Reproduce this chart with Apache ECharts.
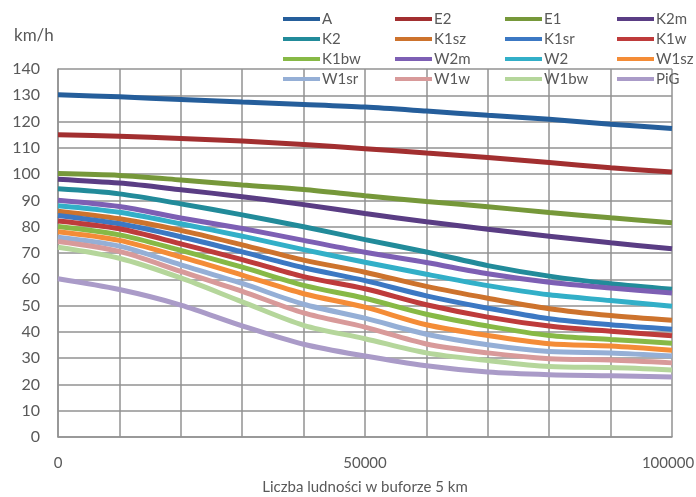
<!DOCTYPE html>
<html>
<head>
<meta charset="utf-8">
<script src="https://cdn.jsdelivr.net/npm/echarts@6/dist/echarts.min.js"></script>
<style>
html,body{margin:0;padding:0;background:#fff;}
#c{width:696px;height:497px;}
</style>
</head>
<body>
<div id="c"></div>
<script>
const xValues = [0,10000,20000,30000,40000,50000,60000,70000,80000,90000,100000];
const xTickLabels = ['0','50000','100000'];
const seriesNames = ['A','E2','E1','K2m','K2','K1sz','K1sr','K1w','K1bw','W2m','W2','W1sz','W1sr','W1w','W1bw','PiG'];

const A    = [130.2,129.4,128.4,127.4,126.5,125.5,124,122.4,120.9,119,117.4];
const E2   = [115,114.4,113.6,112.6,111.3,109.7,108,106.3,104.4,102.4,100.8];
const E1   = [100.2,99.5,97.8,95.9,94.2,91.8,89.6,87.6,85.4,83.4,81.5];
const K2m  = [98.1,96.6,94.1,91.4,88.4,85,81.9,79,76.4,73.9,71.6];
const K2   = [94.4,92.5,88.7,84.5,80,75.1,70.4,65.2,61.2,58.3,56.2];
const K1sz = [85.9,83,78.6,73.1,67.3,62.7,57.3,52.8,48.8,46.2,44.4];
const K1sr = [84.3,81.1,76.2,70.4,64.4,59.5,53.7,49,45,42.7,41];
const K1w  = [82.2,79.2,73.5,67.5,61,56.4,50.3,45.6,42.2,40.2,38.5];
const K1bw = [80.1,76.9,71,64.6,57.7,52.8,46.7,42.2,38.6,37.1,35.7];
const W2m  = [90.1,87.7,83.3,79.3,74.8,70.3,66.4,62.1,58.9,56.7,54.8];
const W2   = [88,85.5,81.1,76.4,71.3,66.5,61.9,57.6,54.1,51.9,49.7];
const W1sz = [78.1,74.8,68.5,61.6,54.5,49.4,42.7,38.6,35.5,34.6,33];
const W1sr = [76,72.6,65.5,58.4,50.5,45.2,39.1,35.1,32.5,32,30.8];
const W1w  = [74.4,70.6,63,55.4,47.2,41.8,35.4,32,29.8,29.3,28.2];
const W1bw = [72.2,68,60.5,51.4,42.5,37.4,32,29.1,26.8,26.4,25.5];
const PiG  = [60.2,56.1,50.2,42.3,35.3,30.8,27.1,24.7,23.7,23.3,22.8];

const values = {A,E2,E1,K2m,K2,K1sz,K1sr,K1w,K1bw,W2m,W2,W1sz,W1sr,W1w,W1bw,PiG};
const colors = {
  A:'#255e9b', E2:'#a22f30', E1:'#76983a', K2m:'#5a3d84',
  K2:'#228b9a', K1sz:'#cd732d', K1sr:'#3c78c3', K1w:'#be3b3b',
  K1bw:'#87b946', W2m:'#7d5fb4', W2:'#32afc8', W1sz:'#f48c37',
  W1sr:'#95afd6', W1w:'#d89a9a', W1bw:'#b5d69b', PiG:'#aa9bc8'
};
const legendCols = [
  ['A','K2','K1bw','W1sr'],
  ['E2','K1sz','W2m','W1w'],
  ['E1','K1sr','W2','W1bw'],
  ['K2m','K1w','W1sz','PiG']
];
const legendLeft = [283, 395, 505, 617];

const font = 'Lato, "Open Sans", "Liberation Sans", sans-serif';
const textColor = '#595959';
const gridColor = '#929292';

const chart = echarts.init(document.getElementById('c'), null, {renderer:'canvas'});
const option = {
  animation:false,
  backgroundColor:'#fff',
  color: seriesNames.map(n=>colors[n]),
  title:{text:'km/h', left:9, top:22, textStyle:{fontFamily:font, fontSize:17, fontWeight:'normal', color:textColor}},
  legend: legendCols.map((col,i)=>({
    data: col,
    orient:'vertical',
    left: legendLeft[i],
    top: 9,
    itemWidth: 37,
    itemHeight: 4,
    itemGap: 0,
    icon:'rect',
    padding:0,
    selectedMode:false,
    textStyle:{fontFamily:font, fontSize:15, color:textColor, lineHeight:20, padding:[0,0,0,-3]}
  })),
  grid:{left:58, right:24, top:69, bottom:60, show:false, containLabel:false, outerBoundsMode:'none'},
  xAxis:{
    type:'value', min:0, max:100000, interval:10000,
    name:'Liczba ludności w buforze 5 km', nameLocation:'middle', nameGap:43,
    nameTextStyle:{fontFamily:font, fontSize:15, color:textColor},
    axisLine:{show:true, lineStyle:{color:gridColor, width:1.5}},
    axisTick:{show:false},
    splitLine:{show:true, lineStyle:{color:gridColor, width:1.5}},
    axisLabel:{fontFamily:font, fontSize:15, color:textColor, margin:19,
      formatter:(v)=>{
        const s = String(v);
        if (!xTickLabels.includes(s)) return '';
        return s === xTickLabels[xTickLabels.length-1] ? '{r|' + s + '}' : s;
      },
      rich:{r:{fontFamily:font, fontSize:15, color:textColor, padding:[0,8,0,0]}}
    }
  },
  yAxis:{
    type:'value', min:0, max:140, interval:10,
    axisLine:{show:true, lineStyle:{color:gridColor, width:1.5}},
    axisTick:{show:false},
    splitLine:{show:true, lineStyle:{color:gridColor, width:1.5}},
    axisLabel:{fontFamily:font, fontSize:16, color:textColor, margin:18}
  },
  series: seriesNames.map(n=>({
    name:n, type:'line', smooth:0.3, showSymbol:false, symbol:'none',
    lineStyle:{width:5, color:colors[n]},
    itemStyle:{color:colors[n]},
    data: xValues.map((x,i)=>[x, values[n][i]])
  }))
};
chart.setOption(option);
</script>
</body>
</html>
